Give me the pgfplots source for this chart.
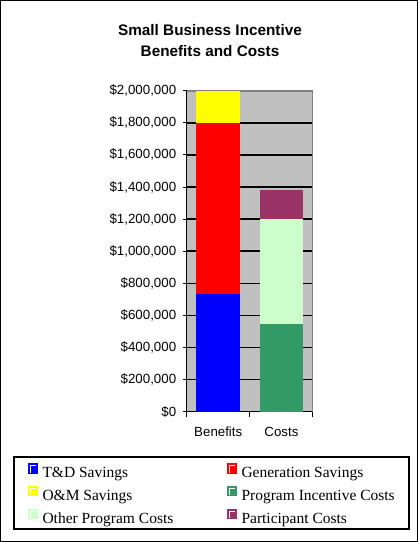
\documentclass[border=0pt]{standalone}
\usepackage{fontspec}
\setmainfont{Liberation Sans}
\newfontfamily\serifleg{Liberation Serif}
\usepackage{pgfplots}
\pgfplotsset{compat=1.18}
\definecolor{tdblue}{RGB}{0,0,255}
\definecolor{genred}{RGB}{255,0,0}
\definecolor{omyellow}{RGB}{255,255,0}
\definecolor{pigreen}{RGB}{51,153,102}
\definecolor{oplight}{RGB}{204,255,204}
\definecolor{partpurple}{RGB}{153,51,102}
\definecolor{plotgray}{RGB}{192,192,192}
\definecolor{edgegray}{RGB}{128,128,128}

\begin{document}
\begin{tikzpicture}[x=1pt,y=1pt]
\path[use as bounding box] (0,0) rectangle (418,542);
\draw[line width=1pt] (0.5,0.5) rectangle (417.5,541.5);
\node[font=\bfseries\fontsize{15.3}{18}\selectfont] at (210,512) {Small Business Incentive};
\node[font=\bfseries\fontsize{15.3}{18}\selectfont] at (210,491) {Benefits and Costs};
\draw[line width=1.5pt] (14,13) rectangle (409,85);

\begin{axis}[
    at={(186.7pt,130.3pt)}, anchor=south west,
    scale only axis, width=126.3pt, height=321pt,
    ybar stacked, bar width=0.69,
    xmin=-0.5, xmax=1.5, ymin=0, ymax=2000000,
    axis background/.style={fill=plotgray},
    axis x line*=bottom, axis y line*=left,
    axis line style={line width=1.5pt,-},
    xtick={0,1}, xticklabels={Benefits,Costs},
    major x tick style={draw=none},
    minor xtick={-0.5,0.5,1.5},
    minor tick length=5pt,
    ytick={0,200000,...,2000000},
    scaled y ticks=false,
    /pgf/number format/assume math mode=true,
    yticklabel={\$\pgfmathprintnumber[fixed,precision=0,1000 sep={,}]{\tick}},
    tick align=outside, major tick length=4pt,
    tick style={black,line width=1pt},
    ticklabel style={font=\fontsize{13.3}{15}\selectfont},
    yticklabel style={xshift=-3pt},
    xticklabel style={yshift=-8pt},
    ymajorgrids, major grid style={black,line width=1.5pt},
    legend columns=2,
    legend cell align=left,
    legend style={draw=none, fill=none, inner sep=0pt,
        at={(axis description cs:-1.262,-0.160)}, anchor=north west,
        font=\serifleg\fontsize{15.5}{16}\selectfont,
        row sep=5.8pt,
        nodes={inner sep=1pt},
        /tikz/every odd column/.append style={column sep=4pt}},
    legend image code/.code={
        \fill[#1,draw=none] (0pt,-0.5pt) rectangle (10pt,10pt);
        \fill[white] (2pt,0.5pt) rectangle (3pt,8pt);
        \fill[white] (2pt,7pt) rectangle (8.5pt,8pt);
    },
]
\addplot[fill=tdblue,draw=none] coordinates {(0,735000) (1,0)};
\addlegendentry{\makebox[183pt][l]{T\&D Savings}}
\addplot[fill=genred,draw=none] coordinates {(0,1065000) (1,0)};
\addlegendentry{Generation Savings}
\addplot[fill=omyellow,draw=none] coordinates {(0,200000) (1,0)};
\addlegendentry{\makebox[183pt][l]{O\&M Savings}}
\addplot[fill=pigreen,draw=none] coordinates {(0,0) (1,546000)};
\addlegendentry{Program Incentive Costs}
\addplot[fill=oplight,draw=none] coordinates {(0,0) (1,653000)};
\addlegendentry{\makebox[183pt][l]{Other Program Costs}}
\addplot[fill=partpurple,draw=none] coordinates {(0,0) (1,182000)};
\addlegendentry{Participant Costs}
\draw[edgegray,line width=2pt] (rel axis cs:0,1) -- (rel axis cs:1,1) -- (rel axis cs:1,0);
\end{axis}
\end{tikzpicture}
\end{document}
